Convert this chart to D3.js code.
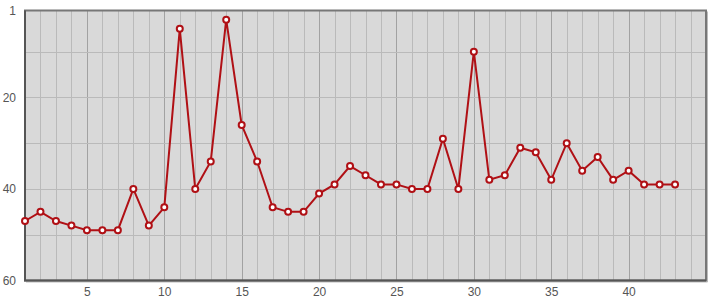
<!DOCTYPE html>
<html>
<head>
<meta charset="utf-8">
<script src="https://cdn.jsdelivr.net/npm/d3@7"></script>
<style>
  body { margin: 0; background: #fff; }
  text { font-family: "Liberation Sans", Arial, sans-serif; font-size: 12px; fill: #555; }
</style>
</head>
<body>
<svg id="chart" width="715" height="300"></svg>
<script>
const positions = [47, 45, 47, 48, 49, 49, 49, 40, 48, 44, 5, 40, 34, 3, 26, 34, 44, 45, 45, 41,
  39, 35, 37, 39, 39, 40, 40, 29, 40, 10, 38, 37, 31, 32, 38, 30, 36, 33, 38, 36, 39, 39, 39];
const rounds = positions.map((d, i) => i + 1);
const xTicks = [5, 10, 15, 20, 25, 30, 35, 40];
const yTicks = [1, 20, 40, 60];

const svg = d3.select('#chart');
const plotLeft = 25, plotRight = 706, plotTop = 10.5, plotBottom = 280.5;

const x = d3.scaleLinear().domain([1, 45]).range([plotLeft, plotRight]);
const y = d3.scaleLinear().domain([1, 60]).range([plotTop, plotBottom]);

// plot background
svg.append('rect').attr('x', plotLeft).attr('y', plotTop)
  .attr('width', plotRight - plotLeft).attr('height', plotBottom - plotTop)
  .attr('fill', '#d9d9d9');

// grid
const grid = svg.append('g');
grid.selectAll('.vx').data(d3.range(2, 45)).enter().append('line')
  .attr('x1', d => Math.round(x(d)) + 0.5).attr('x2', d => Math.round(x(d)) + 0.5)
  .attr('y1', plotTop).attr('y2', plotBottom)
  .attr('stroke', d => d % 5 === 0 ? '#a2a2a2' : '#bababa').attr('stroke-width', 1);
grid.selectAll('.hy').data([10, 20, 30, 40, 50]).enter().append('line')
  .attr('x1', plotLeft).attr('x2', plotRight)
  .attr('y1', d => Math.round(y(d)) + 0.5).attr('y2', d => Math.round(y(d)) + 0.5)
  .attr('stroke', '#bababa').attr('stroke-width', 1);

// frame with a little shadow on right/bottom
svg.append('path')
  .attr('d', `M${plotRight + 1.5},${plotTop + 1}V${plotBottom + 1.5}H${plotLeft + 1}`)
  .attr('fill', 'none').attr('stroke', '#bbb').attr('stroke-width', 1);
svg.append('rect').attr('x', plotLeft).attr('y', plotTop)
  .attr('width', plotRight - plotLeft).attr('height', plotBottom - plotTop)
  .attr('fill', 'none').attr('stroke', '#777').attr('stroke-width', 2);
svg.append('path')
  .attr('d', `M${plotLeft},${plotTop}V${plotBottom}H${plotRight}`)
  .attr('fill', 'none').attr('stroke', '#555').attr('stroke-width', 2);

// axes labels
const yAxis = d3.axisLeft(y).tickValues(yTicks).tickSize(0).tickPadding(8).tickFormat(d3.format('d'));
svg.append('g').attr('transform', `translate(${plotLeft - 1},0)`).call(yAxis)
  .call(g => g.select('.domain').remove())
  .selectAll('text').style('font-size', '12px').attr('fill', '#555');

const xAxis = d3.axisBottom(x).tickValues(xTicks).tickSize(0).tickPadding(6).tickFormat(d3.format('d'));
svg.append('g').attr('transform', `translate(0,${plotBottom + 1})`).call(xAxis)
  .call(g => g.select('.domain').remove())
  .selectAll('text').style('font-size', '12px').attr('fill', '#555');

// line
const line = d3.line().x((d, i) => x(rounds[i])).y(d => y(d));
svg.append('path').datum(positions)
  .attr('d', line).attr('fill', 'none').attr('stroke', '#b01015').attr('stroke-width', 2);

svg.selectAll('.pt').data(positions).enter().append('circle')
  .attr('cx', (d, i) => x(rounds[i])).attr('cy', d => y(d)).attr('r', 3)
  .attr('fill', '#fff').attr('stroke', '#b01015').attr('stroke-width', 2);
</script>
</body>
</html>
